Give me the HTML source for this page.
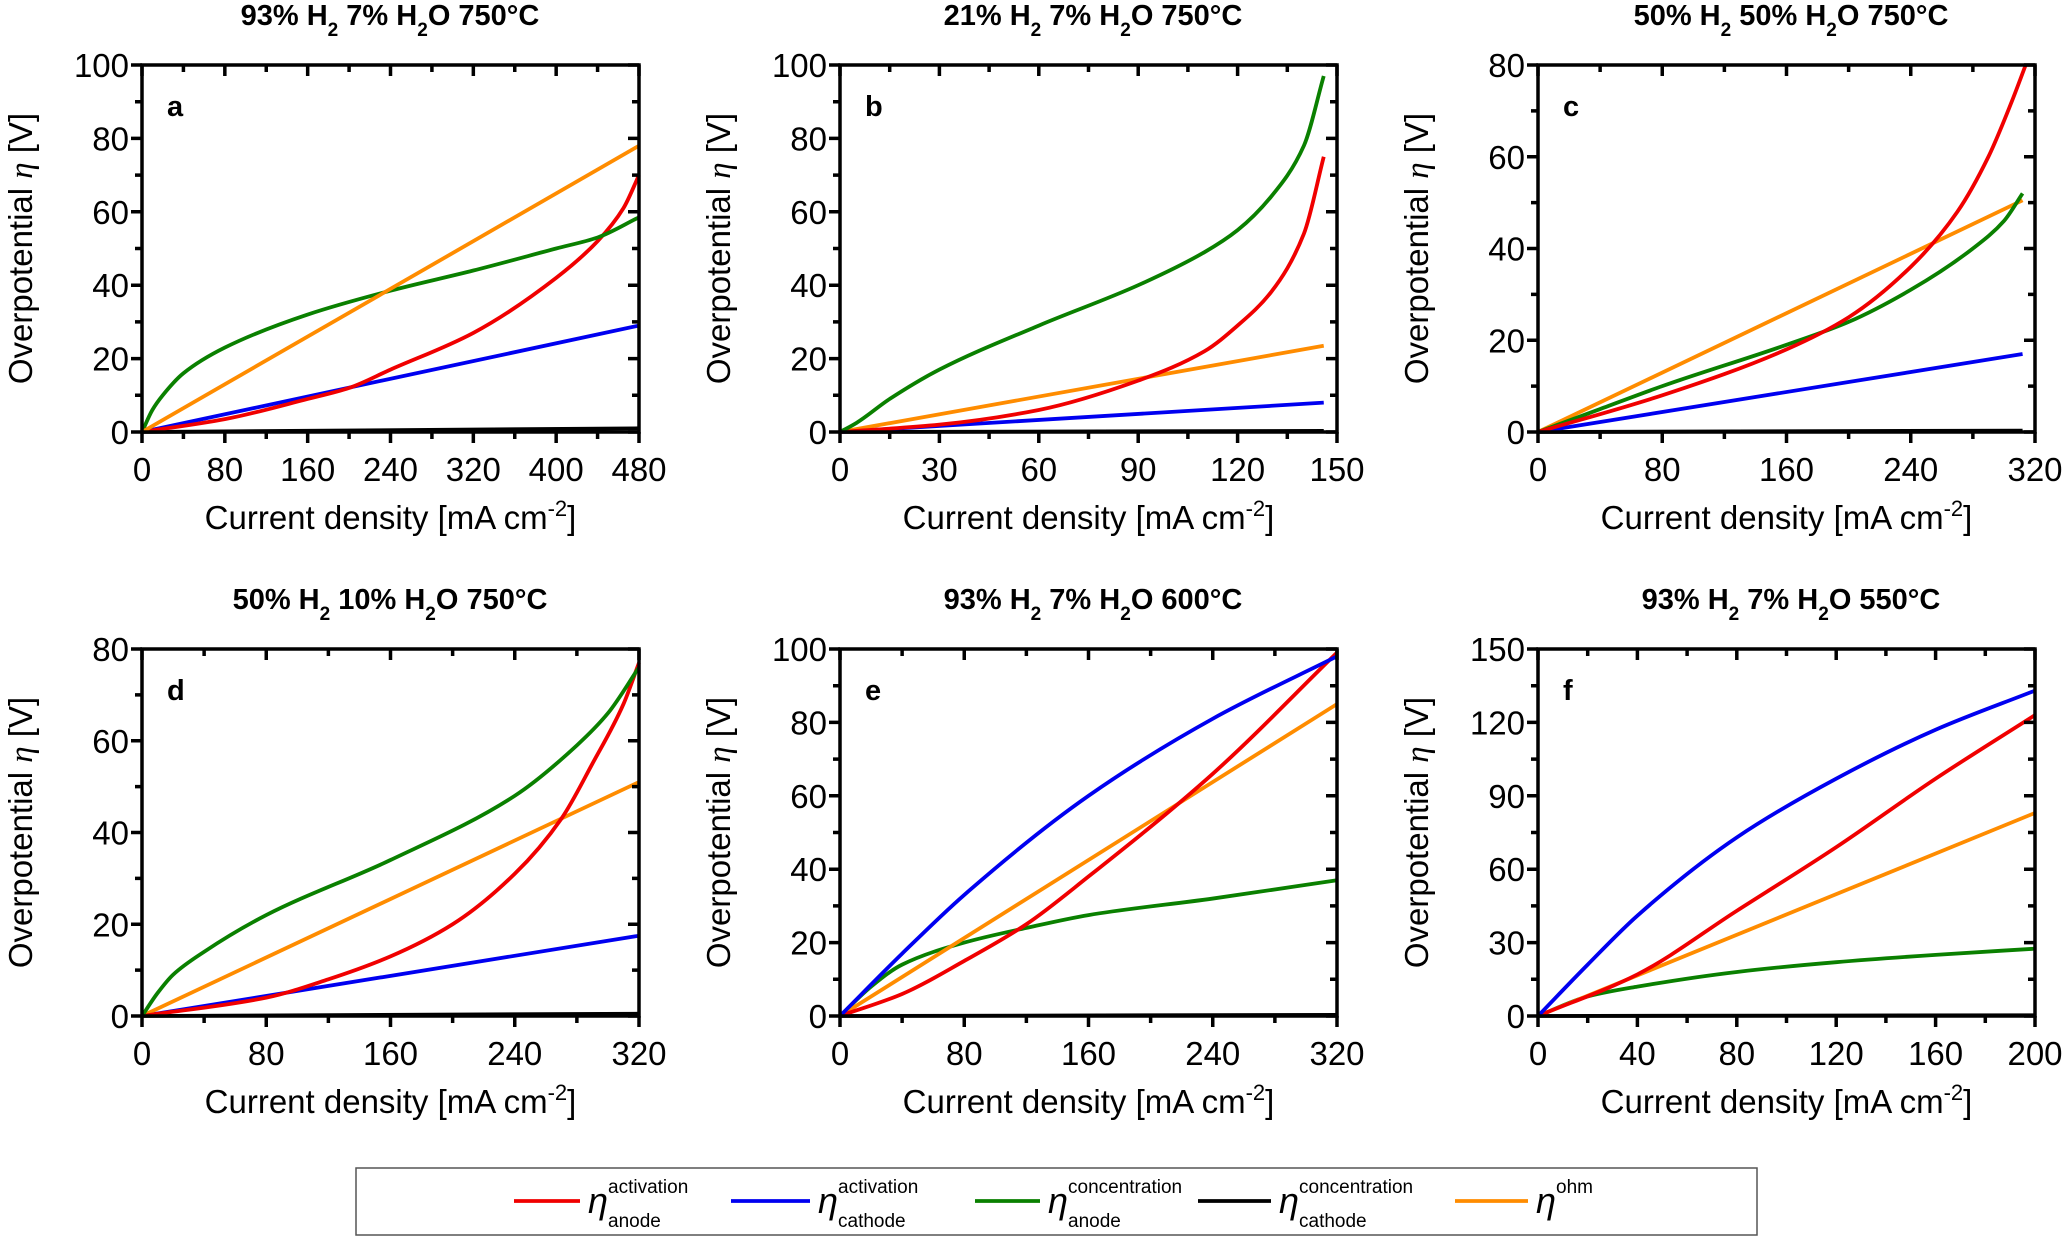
<!DOCTYPE html>
<html><head><meta charset="utf-8"><style>
body{margin:0;background:#fff}
svg text{font-family:"Liberation Sans",sans-serif}
</style></head><body>
<svg id="s" width="2065" height="1237" viewBox="0 0 2065 1237" xmlns="http://www.w3.org/2000/svg">
<rect x="356" y="1168" width="1401" height="67" fill="#fff" stroke="#555" stroke-width="1.5"/>
</svg>
<script>
const S=document.getElementById('s');const NS='http://www.w3.org/2000/svg';
function el(t,a,txt){const e=document.createElementNS(NS,t);for(const k in a)e.setAttribute(k,a[k]);if(txt!==undefined)e.textContent=txt;S.appendChild(e);return e;}
const C={r:'#f00000',b:'#0000f0',g:'#0a8000',k:'#000',o:'#ff8c00'};
const P=[
{L:142,T:65,title:'93% H|2| 7% H|2|O 750°C',tx:390,let:'a',xm:480,xM:80,xn:40,ym:100,yM:20,yn:10,s:[
['k',[[0,0],[480,1]]],
['b',[[0,0],[480,29]]],
['r',[[0,0],[80,3.5],[160,9],[200,12],[240,17],[320,27],[400,42],[440,52],[465,61],[480,70]]],
['g',[[0,0],[10,6],[20,10],[40,16],[80,23],[160,32],[240,38.5],[320,44],[400,50],[440,53],[480,58.5]]],
['o',[[0,0],[480,78]]]]},
{L:840,T:65,title:'21% H|2| 7% H|2|O 750°C',tx:1093,let:'b',xm:150,xM:30,xn:15,ym:100,yM:20,yn:10,s:[
['k',[[0,0],[146,0.3]]],
['b',[[0,0],[146,8]]],
['o',[[0,0],[146,23.5]]],
['r',[[0,0],[30,2],[60,6],[90,14],[110,22],[120,29],[130,38],[140,54],[146,75]]],
['g',[[0,0],[5,2.5],[15,9],[30,17],[60,29],[90,40],[110,49],[120,55],[130,64],[140,78],[146,97]]]]},
{L:1538,T:65,title:'50% H|2| 50% H|2|O 750°C',tx:1791,let:'c',xm:320,xM:80,xn:40,ym:80,yM:20,yn:10,s:[
['k',[[0,0],[312,0.3]]],
['b',[[0,0],[312,17]]],
['o',[[0,0],[312,50.5]]],
['g',[[0,0],[40,5],[80,10],[160,19],[200,24],[240,31],[280,40],[300,46],[312,52]]],
['r',[[0,0],[80,8],[160,18],[200,25],[240,36],[270,48],[290,60],[305,72],[314,80]]]]},
{L:142,T:649,title:'50% H|2| 10% H|2|O 750°C',tx:390,let:'d',xm:320,xM:80,xn:40,ym:80,yM:20,yn:10,s:[
['k',[[0,0],[320,0.5]]],
['b',[[0,0],[320,17.5]]],
['o',[[0,0],[320,51]]],
['r',[[0,0],[80,4],[120,8],[160,13],[200,20],[240,31],[270,43],[290,55],[310,68],[320,77]]],
['g',[[0,0],[10,5],[20,9],[40,14],[80,22],[160,34],[240,48],[280,59],[300,66],[320,76]]]]},
{L:840,T:649,title:'93% H|2| 7% H|2|O 600°C',tx:1093,let:'e',xm:320,xM:80,xn:40,ym:100,yM:20,yn:10,s:[
['k',[[0,0],[320,0.3]]],
['g',[[0,0],[20,8],[40,14],[80,20],[120,24],[160,27.5],[240,32],[320,37]]],
['o',[[0,0],[320,85]]],
['r',[[0,0],[40,6],[80,15],[120,25],[160,38],[240,66],[320,99]]],
['b',[[0,0],[40,17],[80,33],[160,60],[240,81],[320,98]]]]},
{L:1538,T:649,title:'93% H|2| 7% H|2|O 550°C',tx:1791,let:'f',xm:200,xM:40,xn:20,ym:150,yM:30,yn:15,s:[
['k',[[0,0],[200,0.3]]],
['g',[[0,0],[20,8],[40,12],[80,18],[120,22],[160,25],[200,27.5]]],
['o',[[0,0],[200,83]]],
['r',[[0,0],[40,17],[80,43],[120,69],[160,97],[200,123]]],
['b',[[0,0],[20,21],[40,41],[80,73],[120,97],[160,117],[200,133]]]]}];
const W=497,H=367;
// monotone cubic (Fritsch-Carlson)
function mono(pts){const n=pts.length;if(n<3){return 'M'+pts.map(p=>p.join(',')).join(' L');}
const dx=[],m=[],t=new Array(n);for(let i=0;i<n-1;i++){dx[i]=pts[i+1][0]-pts[i][0];m[i]=(pts[i+1][1]-pts[i][1])/dx[i];}
t[0]=m[0];t[n-1]=m[n-2];for(let i=1;i<n-1;i++){if(m[i-1]*m[i]<=0)t[i]=0;else{const w1=2*dx[i]+dx[i-1],w2=dx[i]+2*dx[i-1];t[i]=(w1+w2)/(w1/m[i-1]+w2/m[i]);}}
let d='M'+pts[0][0]+','+pts[0][1];for(let i=0;i<n-1;i++){const h=dx[i]/3;d+=` C${pts[i][0]+h},${pts[i][1]+t[i]*h} ${pts[i+1][0]-h},${pts[i+1][1]-t[i+1]*h} ${pts[i+1][0]},${pts[i+1][1]}`;}return d;}
P.forEach(p=>{const L=p.L,T=p.T,R=L+W,B=T+H;
const X=v=>L+v/p.xm*W,Y=v=>B-v/p.ym*H;
const parts=p.title.split('|');const t=el('text',{x:p.tx,y:T-40,'text-anchor':'middle','font-size':29,'font-weight':'bold'});
parts.forEach((s,i)=>{const ts=document.createElementNS(NS,'tspan');ts.textContent=s;if(i%2==1){ts.setAttribute('font-size',19);ts.setAttribute('dy',11);}else if(i>0){ts.setAttribute('dy',-11);}t.appendChild(ts);});
p.s.forEach(([c,pts])=>{el('path',{d:mono(pts.map(q=>[X(q[0]),Y(q[1])])),fill:'none',stroke:C[c],'stroke-width':3.8,'stroke-linejoin':'round'});});
el('rect',{x:L,y:T,width:W,height:H,fill:'none',stroke:'#000','stroke-width':3.5});
let d='';
for(let v=0;v<=p.xm+1e-9;v+=p.xn){const x=X(v);const maj=Math.abs(v/p.xM-Math.round(v/p.xM))<1e-6;const l=maj?11:7;d+=`M${x},${B}v${l}M${x},${T}v${l}`;
if(maj)el('text',{x:x,y:B+49,'text-anchor':'middle','font-size':33},String(v));}
for(let v=0;v<=p.ym+1e-9;v+=p.yn){const y=Y(v);const maj=Math.abs(v/p.yM-Math.round(v/p.yM))<1e-6;const l=maj?11:7;d+=`M${L},${y}h${-l}M${R},${y}h${-l}`;
if(maj)el('text',{x:L-13,y:y+12,'text-anchor':'end','font-size':33},String(v));}
el('path',{d:d,stroke:'#000','stroke-width':3.5,fill:'none'});
el('text',{x:L+25,y:T+51,'font-size':29,'font-weight':'bold'},p.let);
const xl=el('text',{x:L+W/2,y:B+97,'text-anchor':'middle','font-size':33});
xl.innerHTML='Current density [mA cm<tspan dy="-13" font-size="22">-2</tspan><tspan dy="13">]</tspan>';
const yl=el('text',{transform:`translate(${L-110},${T+H/2}) rotate(-90)`,'text-anchor':'middle','font-size':33});
yl.innerHTML='Overpotential <tspan font-family="Liberation Serif,serif" font-style="italic">η</tspan> [V]';
});
const LG=[['r',514,580,'activation','anode'],['b',731,810,'activation','cathode'],['g',975,1040,'concentration','anode'],['k',1198,1271,'concentration','cathode'],['o',1455,1528,'ohm','']];
LG.forEach(([c,x1,x2,sup,sub])=>{el('line',{x1:x1,x2:x2,y1:1201,y2:1201,stroke:C[c],'stroke-width':3.8});
el('text',{x:x2+8,y:1213,'font-size':36,'font-style':'italic','font-family':'Liberation Serif,serif'},'η');
el('text',{x:x2+28,y:1193,'font-size':19},sup);if(sub)el('text',{x:x2+28,y:1227,'font-size':19},sub);});
</script>
</body></html>
